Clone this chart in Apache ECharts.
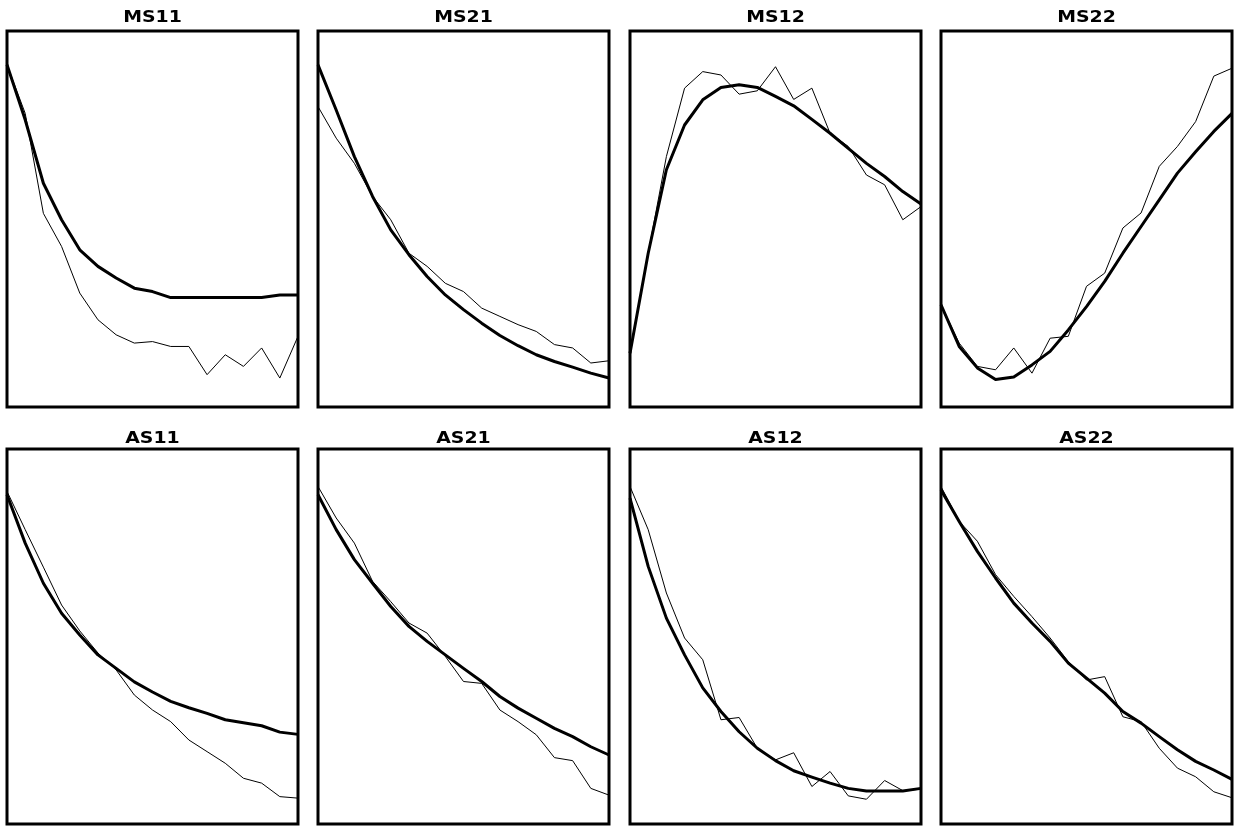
<!DOCTYPE html>
<html>
<head>
<meta charset="utf-8">
<script src="https://cdn.jsdelivr.net/npm/echarts@6/dist/echarts.min.js"></script>
<style>
  html, body { margin: 0; padding: 0; background: #fff; }
  #main { width: 1236px; height: 827px; }
</style>
</head>
<body>
<div id="main"></div>
<script>
// 17 sample steps per panel
const steps = [0, 1, 2, 3, 4, 5, 6, 7, 8, 9, 10, 11, 12, 13, 14, 15, 16]

const titles = ['MS11', 'MS21', 'MS12', 'MS22', 'AS11', 'AS21', 'AS12', 'AS22']

// thin line = measured, thick line = fitted (0..100 of panel height)
const ms11Thin  = [91.0, 78.1, 51.5, 42.7, 30.3, 23.2, 19.2, 17.0, 17.4, 16.1, 16.1, 8.6, 13.9, 10.8, 15.7, 7.7, 18.8]
const ms11Thick = [91.0, 76.4, 59.5, 49.8, 41.8, 37.4, 34.3, 31.6, 30.7, 29.1, 29.1, 29.1, 29.1, 29.1, 29.1, 29.8, 29.8]

const ms21Thin  = [79.9, 71.5, 64.8, 56.0, 49.8, 40.9, 37.4, 32.9, 30.7, 26.3, 24.1, 21.9, 20.1, 16.6, 15.7, 11.7, 12.3]
const ms21Thick = [91.0, 79.0, 66.6, 56.0, 47.1, 40.5, 34.7, 29.8, 25.9, 22.3, 19.0, 16.3, 13.9, 12.1, 10.6, 9.0, 7.7]

const ms12Thin  = [14.3, 40.9, 66.6, 84.8, 89.2, 88.3, 83.2, 84.1, 90.5, 81.8, 84.8, 72.8, 69.3, 61.7, 59.1, 49.8, 53.3]
const ms12Thick = [14.3, 40.9, 63.1, 75.0, 81.7, 85.0, 85.7, 85.0, 82.6, 80.1, 76.5, 72.8, 68.8, 64.8, 61.3, 57.3, 54.0]

const ms22Thin  = [27.2, 17.0, 10.8, 9.9, 15.7, 9.0, 18.3, 18.8, 32.1, 35.6, 47.6, 51.6, 64.0, 69.3, 75.9, 88.0, 90.1]
const ms22Thick = [27.2, 16.1, 10.4, 7.3, 8.0, 11.2, 14.8, 20.5, 26.7, 33.4, 40.9, 48.0, 55.1, 62.2, 67.9, 73.3, 78.1]

const as11Thin  = [88.7, 78.5, 68.5, 58.4, 51.5, 45.6, 41.1, 34.4, 30.4, 27.3, 22.4, 19.3, 16.2, 12.2, 10.9, 7.3, 6.9]
const as11Thick = [87.8, 74.9, 64.2, 56.2, 50.4, 45.1, 41.5, 37.9, 35.2, 32.7, 31.0, 29.5, 27.8, 27.0, 26.2, 24.5, 23.9]

const as21Thin  = [90.0, 81.6, 74.9, 64.7, 59.3, 53.6, 50.9, 44.7, 38.0, 37.5, 30.4, 27.3, 23.8, 17.7, 16.9, 9.5, 7.7]
const as21Thick = [87.8, 78.5, 70.5, 64.2, 58.0, 52.7, 48.7, 45.1, 41.5, 38.0, 34.0, 30.9, 28.2, 25.5, 23.3, 20.6, 18.4]

const as12Thin  = [90.0, 78.5, 61.6, 49.6, 43.8, 27.8, 28.4, 20.2, 17.1, 19.0, 10.0, 14.0, 7.5, 6.6, 11.6, 8.9, 9.3]
const as12Thick = [86.9, 68.7, 54.9, 45.1, 36.3, 30.0, 24.6, 20.2, 16.9, 14.2, 12.5, 10.9, 9.5, 8.8, 8.8, 8.8, 9.5]

const as22Thin  = [90.0, 80.7, 75.4, 66.5, 60.7, 55.3, 49.6, 43.3, 38.4, 39.3, 28.6, 27.3, 20.2, 14.9, 12.6, 8.6, 7.0]
const as22Thick = [89.1, 80.7, 72.7, 65.6, 58.9, 53.6, 48.7, 42.9, 38.9, 34.9, 30.0, 26.9, 23.3, 19.8, 16.7, 14.4, 11.9]

const thinData  = [ms11Thin, ms21Thin, ms12Thin, ms22Thin, as11Thin, as21Thin, as12Thin, as22Thin]
const thickData = [ms11Thick, ms21Thick, ms12Thick, ms22Thick, as11Thick, as21Thick, as12Thick, as22Thick]

//面板布局
const colLeft = [7, 318, 630, 941]
const panelW = 291
const rowTop = [31, 449]
const rowH = [376, 375]
const titleMid = [17.5, 438.5]

const pairs = (ys) => steps.map((x, i) => [x, ys[i]])

const grids = [], xAxes = [], yAxes = [], series = [], labels = []
titles.forEach((name, i) => {
    const r = Math.floor(i / 4), c = i % 4
    grids.push({
        left: colLeft[c], top: rowTop[r], width: panelW, height: rowH[r],
        show: true, borderColor: '#000', borderWidth: 3, backgroundColor: '#fff'
    })
    xAxes.push({ type: 'value', gridIndex: i, min: 0, max: 16, show: false })
    yAxes.push({ type: 'value', gridIndex: i, min: 0, max: 100, show: false })
    // 标题 (slightly stretched, like the plotter font)
    labels.push({
        type: 'text', x: colLeft[c] + panelW / 2, y: titleMid[r], scaleX: 1.18,
        style: {
            text: name, fill: '#000', font: 'bold 16px "DejaVu Sans"',
            textAlign: 'center', textVerticalAlign: 'middle'
        }
    })
    series.push({
        type: 'line', xAxisIndex: i, yAxisIndex: i, data: pairs(thinData[i]),
        symbol: 'none', lineStyle: { color: '#000', width: 1 }, z: 2
    })
    series.push({
        type: 'line', xAxisIndex: i, yAxisIndex: i, data: pairs(thickData[i]),
        symbol: 'none', lineStyle: { color: '#000', width: 3, join: 'round' }, z: 3
    })
})

const chart = echarts.init(document.getElementById('main'))
chart.setOption({
    animation: false,
    backgroundColor: '#fff',
    graphic: labels,
    grid: grids,
    xAxis: xAxes,
    yAxis: yAxes,
    series: series
})
</script>
</body>
</html>
